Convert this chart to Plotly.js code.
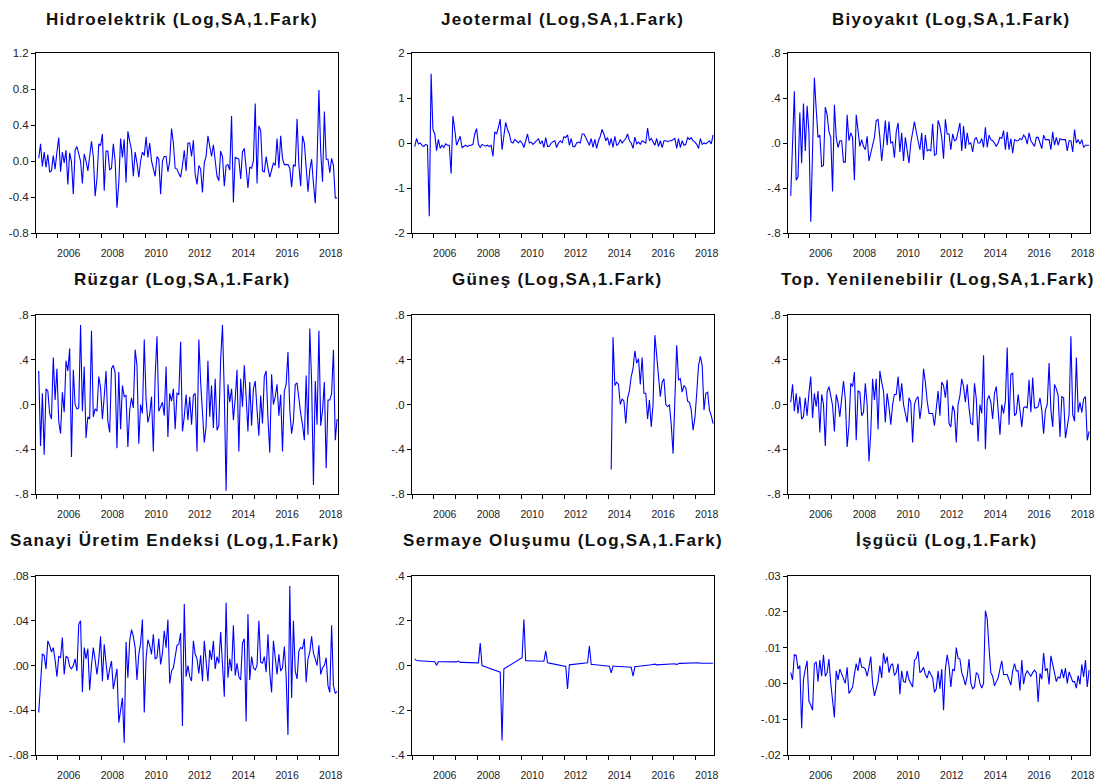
<!DOCTYPE html>
<html>
<head>
<meta charset="utf-8">
<script src="https://cdn.plot.ly/plotly-3.0.1.min.js"></script>
<style>
  html, body { margin: 0; padding: 0; background: #fff; }
  #chart { width: 1114px; height: 783px; }
  .annotation-text { letter-spacing: 1.3px; }
</style>
</head>
<body>
<div id="chart"></div>
<script>
// Monthly first differences, 2005M02 - 2018M10 (Güneş from 2014M02)
const startYear = 2005, startMonth = 2;

const hidro = [
  0.03, 0.19, -0.06, 0.10, -0.07, 0.07, -0.12, -0.11, 0.06, -0.09, 0.10,
  0.26, -0.12, 0.10, -0.02, 0.12, -0.26, 0.09, -0.01, -0.37, 0.12, 0.16, 0.08,
  0.00, -0.25, 0.08, 0.00, -0.11, 0.05, 0.22, 0.05, -0.39, -0.20, 0.19, 0.17,
  0.30, -0.33, 0.11, 0.11, -0.10, -0.08, 0.19, 0.00, -0.52, -0.25, 0.25, 0.04,
  0.24, -0.24, 0.33, 0.22, 0.12, -0.17, 0.10, -0.02, -0.18, 0.00, 0.10, 0.06,
  0.27, 0.04, 0.20, 0.00, -0.10, -0.17, 0.05, 0.02, -0.37, 0.00, 0.05, 0.05,
  -0.12, 0.00, 0.36, 0.20, -0.08, -0.09, -0.14, -0.18, -0.05, 0.12, -0.11, 0.20,
  0.20, 0.05, 0.23, -0.15, -0.26, -0.05, -0.09, -0.35, -0.02, 0.05, 0.28, 0.15,
  0.05, 0.18, 0.02, -0.17, -0.22, 0.11, 0.05, -0.28, -0.05, -0.04, -0.10, 0.50,
  -0.46, 0.04, 0.03, 0.02, -0.20, 0.10, 0.14, -0.05, -0.30, -0.07, -0.08, 0.00,
  0.64, -0.25, 0.39, 0.34, -0.11, -0.12, 0.05, -0.08, -0.18, -0.10, -0.02, -0.05,
  0.25, -0.08, 0.28, 0.03, -0.04, -0.04, -0.04, -0.08, -0.29, -0.04, -0.06, 0.47,
  -0.05, -0.28, 0.28, 0.20, -0.05, -0.34, -0.10, 0.02, -0.25, -0.47, 0.00, 0.79,
  0.10, -0.23, 0.55, 0.02, 0.02, -0.13, 0.03, -0.05, -0.41, -0.41
];

const jeotermal = [
  -0.08, 0.10, -0.02, 0.00, -0.05, -0.08, -0.03, -0.05, -1.63, 1.54, 0.30,
  0.20, -0.17, 0.08, -0.12, -0.05, -0.10, -0.02, -0.05, -0.05, -0.68, 0.60, 0.30,
  -0.05, 0.05, 0.15, -0.10, -0.08, -0.05, -0.08, -0.05, -0.05, -0.03, 0.20, 0.32,
  -0.03, -0.10, -0.03, -0.05, -0.07, -0.05, -0.08, -0.05, -0.30, 0.25, 0.20, 0.35,
  0.53, -0.15, 0.20, 0.46, 0.30, 0.20, 0.02, 0.00, 0.08, 0.05, 0.00, 0.05,
  0.00, -0.10, 0.05, 0.20, 0.00, 0.02, -0.03, 0.00, 0.05, 0.10, -0.02, 0.05,
  -0.10, 0.12, -0.08, -0.07, 0.00, 0.03, 0.05, -0.10, 0.00, 0.05, 0.00, 0.14,
  0.12, 0.18, -0.05, 0.10, -0.08, -0.08, 0.00, 0.02, 0.00, 0.20, 0.20, 0.12,
  0.05, -0.05, 0.10, -0.10, 0.08, -0.12, 0.05, 0.15, 0.30, 0.20, 0.05, 0.12,
  -0.05, 0.10, -0.10, 0.15, -0.05, -0.02, 0.08, 0.00, 0.05, 0.10, 0.20, 0.05,
  0.00, -0.12, 0.13, -0.02, 0.02, -0.03, 0.05, 0.02, 0.00, 0.33, 0.05, 0.10,
  0.02, -0.05, 0.10, -0.08, 0.05, -0.10, 0.05, 0.05, 0.03, 0.05, 0.05, 0.08,
  0.10, -0.12, 0.10, -0.10, 0.05, -0.05, -0.03, 0.12, 0.08, 0.12, 0.05, 0.02,
  -0.03, -0.12, 0.10, -0.03, 0.00, -0.02, 0.02, 0.05, -0.02, 0.18
];

const biyoyakit = [
  -0.47, 0.00, 0.46, -0.33, -0.30, 0.27, -0.18, 0.35, -0.07, 0.33, 0.10,
  -0.70, -0.05, 0.58, 0.30, 0.05, 0.07, -0.21, -0.20, 0.32, 0.25, 0.10, 0.05,
  -0.43, 0.34, 0.05, -0.04, 0.02, 0.02, -0.17, -0.17, 0.25, 0.02, 0.09, 0.05,
  -0.33, 0.25, 0.10, -0.03, 0.03, -0.03, -0.06, 0.06, -0.16, -0.08, -0.02, 0.05,
  0.20, 0.21, 0.05, -0.16, 0.00, 0.20, -0.02, 0.19, 0.00, 0.01, -0.13, 0.10,
  0.18, -0.08, 0.09, -0.16, 0.05, -0.05, -0.18, 0.00, 0.08, 0.19, 0.10, 0.00,
  -0.06, 0.09, -0.15, 0.07, -0.07, -0.06, -0.07, 0.17, -0.11, -0.10, 0.20, 0.15,
  0.05, -0.14, 0.21, 0.08, 0.08, -0.06, 0.08, 0.02, 0.03, 0.10, 0.18, -0.07,
  0.15, -0.05, 0.09, -0.01, 0.00, -0.08, 0.03, 0.05, 0.00, 0.00, 0.04, -0.04,
  0.14, -0.04, 0.07, 0.03, 0.02, 0.00, -0.03, 0.00, 0.05, 0.04, 0.11, -0.06,
  0.10, -0.06, 0.04, -0.09, 0.03, 0.02, 0.02, 0.04, 0.03, 0.07, 0.05, -0.01,
  0.09, 0.02, 0.00, -0.03, 0.05, 0.05, 0.00, -0.05, 0.07, 0.03, 0.03, 0.03,
  -0.06, 0.10, -0.02, 0.05, -0.02, 0.04, 0.03, 0.03, 0.03, -0.07, 0.02, 0.02,
  -0.08, 0.12, 0.00, 0.03, -0.01, 0.03, -0.04, -0.02, -0.02, -0.02
];

const ruzgar = [
  0.30, -0.37, 0.10, -0.45, 0.14, 0.12, -0.08, -0.13, 0.42, 0.04, 0.32,
  -0.15, -0.26, 0.11, -0.07, 0.39, 0.30, 0.50, -0.47, 0.31, 0.00, -0.04, -0.03,
  0.71, -0.06, 0.34, -0.30, -0.11, -0.13, 0.66, -0.11, -0.04, -0.06, 0.25, 0.15,
  -0.13, 0.07, 0.30, -0.15, -0.25, 0.32, 0.35, 0.28, -0.39, 0.29, -0.22, 0.17,
  0.07, 0.08, -0.38, -0.05, 0.06, -0.03, 0.49, 0.35, -0.35, 0.00, -0.08, 0.58,
  0.05, -0.16, -0.09, 0.07, -0.42, 0.25, 0.61, -0.06, -0.02, 0.02, -0.10, 0.34,
  -0.29, 0.10, 0.03, 0.14, -0.22, 0.10, 0.09, 0.56, -0.24, -0.11, 0.09, -0.14,
  0.07, -0.18, 0.08, 0.10, -0.42, 0.58, 0.20, -0.05, -0.34, -0.20, 0.39, -0.11,
  0.17, -0.21, 0.23, -0.23, -0.19, 0.40, 0.71, 0.10, -0.77, 0.18, 0.02, 0.14,
  -0.14, 0.05, 0.31, -0.42, 0.23, -0.02, 0.35, 0.07, -0.24, 0.20, -0.19, 0.14,
  0.21, -0.05, -0.28, 0.08, -0.17, 0.25, 0.30, -0.12, -0.43, 0.27, 0.00, 0.07,
  0.18, -0.10, 0.09, -0.42, 0.12, 0.18, 0.47, -0.05, -0.26, -0.15, 0.18, 0.19,
  0.02, -0.08, -0.18, -0.32, 0.26, -0.27, 0.68, 0.20, -0.72, 0.21, -0.18, 0.66,
  -0.19, -0.05, 0.20, -0.57, 0.04, 0.04, 0.10, 0.49, -0.32, -0.13
];

// Güneş: 2014M02 - 2018M10
const gunesStartYear = 2014, gunesStartMonth = 2;
const gunes = [
  -0.58, 0.60, 0.17, 0.20, 0.18, 0.00, 0.05, 0.03, -0.17, 0.06, 0.12,
  0.25, 0.32, 0.48, 0.37, 0.41, 0.18, 0.42, 0.10, 0.10, -0.13, 0.04,
  -0.20, 0.00, 0.62, 0.45, 0.30, 0.07, 0.20, 0.23, 0.00, -0.02, 0.00,
  -0.18, -0.44, 0.05, 0.53, 0.22, 0.23, 0.11, 0.17, 0.15, 0.03, 0.02,
  -0.05, -0.23, -0.12, 0.10, 0.35, 0.43, 0.35, -0.05, 0.10, 0.11, -0.05,
  -0.10, -0.17
];

const toplam = [
  0.02, 0.18, -0.06, 0.10, -0.08, 0.07, -0.13, -0.11, 0.06, -0.10, 0.10,
  0.25, -0.12, 0.10, -0.02, 0.12, -0.25, 0.09, 0.00, -0.37, 0.11, 0.16, 0.08,
  -0.01, -0.24, 0.09, 0.02, -0.11, 0.05, 0.21, 0.05, -0.38, -0.19, 0.19, 0.16,
  0.29, -0.32, 0.12, 0.11, -0.10, -0.07, 0.19, 0.00, -0.51, -0.25, 0.23, 0.04,
  0.23, -0.22, 0.30, 0.20, 0.12, -0.16, 0.10, -0.02, -0.18, 0.00, 0.09, 0.09,
  0.25, 0.03, 0.19, 0.00, -0.10, -0.16, 0.06, 0.02, -0.34, 0.00, 0.05, 0.07,
  -0.13, 0.00, 0.32, 0.20, 0.03, -0.08, -0.08, -0.08, -0.19, -0.05, 0.12, -0.10,
  0.20, 0.17, 0.06, 0.22, -0.17, -0.20, -0.01, -0.06, -0.34, 0.00, 0.08, 0.23,
  0.16, 0.02, 0.18, -0.03, -0.17, -0.18, 0.19, 0.05, -0.33, 0.00, -0.08, 0.44,
  -0.40, 0.04, 0.08, 0.02, -0.13, 0.10, 0.16, -0.05, -0.27, 0.00, -0.08, 0.03,
  0.51, -0.18, 0.27, 0.28, -0.10, -0.08, 0.09, -0.05, -0.20, -0.03, -0.02, -0.03,
  0.22, -0.07, 0.24, -0.03, -0.03, -0.02, 0.06, -0.05, -0.26, -0.05, 0.00, 0.37,
  -0.05, -0.20, 0.18, 0.14, 0.08, -0.29, 0.07, 0.06, -0.30, -0.20, -0.09, 0.61,
  -0.09, -0.15, 0.42, -0.07, 0.02, -0.07, 0.05, 0.07, -0.32, -0.24
];

const sanayi = [
  -0.042, -0.010, 0.010, 0.009, -0.003, 0.022, 0.018, 0.012, 0.016, 0.005, -0.010,
  0.008, 0.007, 0.025, -0.008, 0.008, 0.007, -0.001, -0.003, 0.000, 0.006, -0.005, 0.037,
  0.040, -0.024, 0.016, 0.006, 0.015, -0.022, 0.000, 0.016, 0.005, -0.008, 0.005, 0.026,
  -0.014, 0.019, 0.002, -0.013, -0.003, 0.004, -0.021, -0.013, -0.003, -0.051, -0.040, -0.029,
  -0.069, 0.021, -0.011, 0.022, 0.032, 0.026, 0.016, -0.013, 0.010, 0.020, 0.041, -0.042,
  0.006, 0.023, 0.018, 0.010, 0.028, 0.006, 0.007, 0.024, 0.001, 0.011, 0.031, 0.016,
  0.041, -0.016, -0.005, -0.002, 0.008, 0.018, 0.019, 0.029, -0.054, 0.055, -0.010, 0.000,
  -0.010, -0.014, 0.022, 0.010, 0.006, -0.007, 0.009, -0.014, 0.022, 0.005, -0.014, 0.014,
  0.005, 0.022, -0.003, 0.008, 0.002, 0.030, -0.004, -0.028, 0.056, -0.011, 0.006, -0.005,
  0.036, -0.009, 0.002, -0.010, -0.013, 0.020, 0.024, -0.050, 0.046, -0.013, 0.008, -0.002,
  -0.004, 0.000, 0.040, 0.003, 0.002, 0.008, -0.006, 0.028, -0.007, -0.024, 0.022, 0.005,
  -0.008, 0.010, -0.005, -0.002, 0.017, -0.010, -0.062, 0.071, -0.029, 0.040, -0.005, -0.012,
  0.013, 0.016, 0.015, 0.024, -0.015, 0.006, 0.012, 0.026, 0.011, 0.006, 0.000, 0.018,
  -0.008, -0.002, 0.000, 0.007, -0.018, -0.024, 0.036, -0.018, -0.025, -0.023
];

const sermaye = [
  0.030, 0.022, 0.0215, 0.021, 0.0205, 0.020, 0.0195, 0.019, 0.0185, 0.018, 0.0175,
  0.017, 0.001, 0.017, 0.017, 0.0168, 0.0167, 0.0166, 0.0165, 0.0164, 0.0163, 0.0162, 0.0161,
  0.016, 0.020, 0.014, 0.0138, 0.0136, 0.0134, 0.0132, 0.013, 0.0128, 0.0126, 0.0124, 0.0122,
  0.012, 0.100, 0.000, -0.003, -0.006, -0.009, -0.012, -0.015, -0.018, -0.021, -0.024, -0.027,
  -0.030, -0.335, -0.015, -0.010, -0.005, 0.000, 0.005, 0.010, 0.015, 0.020, 0.025, 0.030,
  0.035, 0.205, 0.021, 0.021, 0.0208, 0.0206, 0.0204, 0.0202, 0.020, 0.0198, 0.0196, 0.0194,
  0.019, 0.065, 0.012, 0.0105, 0.009, 0.0075, 0.006, 0.0045, 0.003, 0.0015, 0.000, -0.002,
  -0.004, -0.105, 0.003, 0.004, 0.005, 0.006, 0.007, 0.008, 0.009, 0.010, 0.011, 0.0115,
  0.012, 0.087, 0.005, 0.0043, 0.0035, 0.0028, 0.002, 0.0013, 0.0005, -0.0003, -0.001, -0.002,
  -0.003, -0.033, -0.003, -0.0035, -0.004, -0.0045, -0.005, -0.0055, -0.006, -0.0065, -0.007, -0.0075,
  -0.008, -0.048, -0.005, -0.0045, -0.004, -0.003, -0.002, -0.001, 0.000, 0.001, 0.002, 0.003,
  0.004, 0.006, 0.003, 0.0035, 0.004, 0.0045, 0.005, 0.0055, 0.006, 0.0065, 0.007, 0.0075,
  0.008, 0.004, 0.009, 0.0095, 0.010, 0.0105, 0.011, 0.0115, 0.012, 0.0125, 0.013, 0.0135,
  0.014, 0.012, 0.010, 0.010, 0.010, 0.010, 0.010, 0.010, 0.010, 0.010
];

const isgucu = [
  0.0030, 0.0010, 0.0080, 0.0078, 0.0040, 0.0050, -0.0125, 0.0010, 0.0040, 0.0063, -0.0050,
  -0.0060, -0.0075, 0.0055, 0.0060, 0.0005, 0.0065, 0.0020, 0.0080, 0.0020, 0.0030, 0.0068, 0.0000,
  -0.0045, -0.0095, 0.0035, 0.0010, 0.0040, 0.0025, 0.0010, 0.0000, 0.0045, -0.0028, -0.0020, -0.0010,
  0.0025, 0.0055, 0.0035, 0.0072, 0.0045, 0.0045, 0.0040, 0.0020, 0.0045, 0.0075, 0.0000, -0.0035,
  -0.0015, 0.0005, 0.0050, 0.0015, 0.0085, 0.0055, 0.0075, 0.0030, 0.0050, 0.0055, 0.0022, 0.0030,
  0.0055, -0.0030, 0.0035, 0.0005, 0.0003, 0.0035, 0.0010, 0.0000, -0.0010, 0.0065, 0.0070, 0.0090,
  0.0030, 0.0035, 0.0045, 0.0025, 0.0015, 0.0035, 0.0025, 0.0015, -0.0025, -0.0015, 0.0035, -0.0015,
  0.0040, -0.0075, 0.0040, 0.0080, 0.0050, -0.0010, 0.0040, 0.0035, 0.0100, 0.0070, 0.0068, 0.0030,
  0.0015, -0.0005, 0.0020, 0.0068, 0.0000, -0.0015, -0.0010, 0.0030, 0.0025, 0.0000, -0.0013, 0.0000,
  0.0203, 0.0180, 0.0100, 0.0030, 0.0020, -0.0007, 0.0005, 0.0015, 0.0040, 0.0063, 0.0025, 0.0025,
  0.0025, 0.0010, -0.0005, 0.0035, 0.0055, 0.0035, 0.0035, -0.0020, 0.0065, -0.0002, 0.0025, 0.0035,
  0.0028, 0.0020, 0.0030, 0.0037, 0.0030, -0.0052, 0.0028, 0.0012, 0.0085, 0.0035, 0.0042, -0.0003,
  0.0077, 0.0050, 0.0030, 0.0005, 0.0018, 0.0015, 0.0040, 0.0015, 0.0043, 0.0000, 0.0032, 0.0020,
  0.0005, 0.0005, -0.0013, 0.0022, -0.0003, 0.0053, 0.0018, 0.0065, -0.0010, 0.0037
];

const titles = [
  "Hidroelektrik (Log,SA,1.Fark)", "Jeotermal (Log,SA,1.Fark)", "Biyoyakıt (Log,SA,1.Fark)",
  "Rüzgar (Log,SA,1.Fark)", "Güneş (Log,SA,1.Fark)", "Top. Yenilenebilir (Log,SA,1.Fark)",
  "Sanayi Üretim Endeksi (Log,1.Fark)", "Sermaye Oluşumu (Log,SA,1.Fark)", "İşgücü (Log,1.Fark)"
];

// y tick values and their labels, one pair per panel
const yTickVals = [
  [-0.8, -0.4, 0.0, 0.4, 0.8, 1.2],
  [-2, -1, 0, 1, 2],
  [-0.8, -0.4, 0.0, 0.4, 0.8],
  [-0.8, -0.4, 0.0, 0.4, 0.8],
  [-0.8, -0.4, 0.0, 0.4, 0.8],
  [-0.8, -0.4, 0.0, 0.4, 0.8],
  [-0.08, -0.04, 0.00, 0.04, 0.08],
  [-0.4, -0.2, 0.0, 0.2, 0.4],
  [-0.02, -0.01, 0.00, 0.01, 0.02, 0.03]
];
const yTickText = [
  ["-0.8", "-0.4", "0.0", "0.4", "0.8", "1.2"],
  ["-2", "-1", "0", "1", "2"],
  ["-.8", "-.4", ".0", ".4", ".8"],
  ["-.8", "-.4", ".0", ".4", ".8"],
  ["-.8", "-.4", ".0", ".4", ".8"],
  ["-.8", "-.4", ".0", ".4", ".8"],
  ["-.08", "-.04", ".00", ".04", ".08"],
  ["-.4", "-.2", ".0", ".2", ".4"],
  ["-.02", "-.01", ".00", ".01", ".02", ".03"]
];
const xLabelYears = [2006, 2008, 2010, 2012, 2014, 2016, 2018];

// ---------------------------------------------------------------------------
const W = 1114, H = 783;
const cols = [[36, 338], [412, 714], [788, 1090]];
const rows = [[53, 233], [315, 494], [576, 755]];
const titleX = [182, 562, 951, 182, 557, 938, 175, 563, 947];
const titleY = [19, 279, 540];

function monthPositions(y0, m0, n) {
  const out = [];
  for (let i = 0; i < n; i++) {
    const k = (m0 - 1) + i;
    const yr = y0 + Math.floor(k / 12);
    const mo = k % 12;
    out.push(yr + (mo + 0.5) / 12);
  }
  return out;
}

const series = [hidro, jeotermal, biyoyakit, ruzgar, gunes, toplam, sanayi, sermaye, isgucu];
const xStart = series.map((s, i) => i === 4 ? [gunesStartYear, gunesStartMonth] : [startYear, startMonth]);

const xRange = [2005, 2018 + 10 / 12];
const yearTicks = [];
for (let y = 2005; y <= 2018; y++) yearTicks.push(y);

const font = "Liberation Sans, Arial, Helvetica, sans-serif";
const traces = [];
const layout = {
  width: W, height: H,
  margin: {l: 0, r: 0, t: 0, b: 0},
  paper_bgcolor: "#fff", plot_bgcolor: "#fff",
  showlegend: false,
  annotations: []
};

series.forEach((vals, i) => {
  const r = Math.floor(i / 3), c = i % 3;
  const n = i + 1;
  const xs = monthPositions(xStart[i][0], xStart[i][1], vals.length);
  traces.push({
    type: "scatter", mode: "lines",
    x: xs, y: vals,
    xaxis: "x" + n, yaxis: "y" + n,
    line: {color: "#0000ff", width: 1.1},
    hoverinfo: "skip"
  });
  const yr = [yTickVals[i][0], yTickVals[i][yTickVals[i].length - 1]];
  layout["xaxis" + (n === 1 ? "" : n)] = {
    domain: [cols[c][0] / W, cols[c][1] / W],
    range: xRange, anchor: "y" + n,
    showline: true, mirror: true, linecolor: "#000", linewidth: 1,
    showgrid: false, zeroline: false, fixedrange: true,
    tickmode: "array",
    tickvals: xLabelYears.map(y => y + 0.5),
    ticktext: xLabelYears.map(String),
    ticks: "outside", ticklen: 10, tickcolor: "rgba(0,0,0,0)",
    minor: {tickmode: "array", tickvals: yearTicks, ticks: "outside", ticklen: 4, tickcolor: "#000", tickwidth: 1, showgrid: false},
    tickfont: {family: font, size: 10.5, color: "#222"}
  };
  layout["yaxis" + (n === 1 ? "" : n)] = {
    domain: [1 - rows[r][1] / H, 1 - rows[r][0] / H],
    range: yr, anchor: "x" + n,
    showline: true, mirror: true, linecolor: "#000", linewidth: 1,
    showgrid: false, zeroline: false, fixedrange: true,
    tickmode: "array", tickvals: yTickVals[i], ticktext: yTickText[i],
    ticks: "outside", ticklen: 4, tickcolor: "#000", tickwidth: 1,
    tickfont: {family: font, size: 11.5, color: "#222"}
  };
  layout.annotations.push({
    text: "<b>" + titles[i] + "</b>",
    xref: "paper", yref: "paper",
    x: titleX[i] / W, y: 1 - titleY[r] / H,
    xanchor: "center", yanchor: "middle",
    showarrow: false,
    font: {family: font, size: 17, color: "#111"}
  });
});

Plotly.newPlot("chart", traces, layout, {staticPlot: true, displayModeBar: false});
</script>
</body>
</html>
